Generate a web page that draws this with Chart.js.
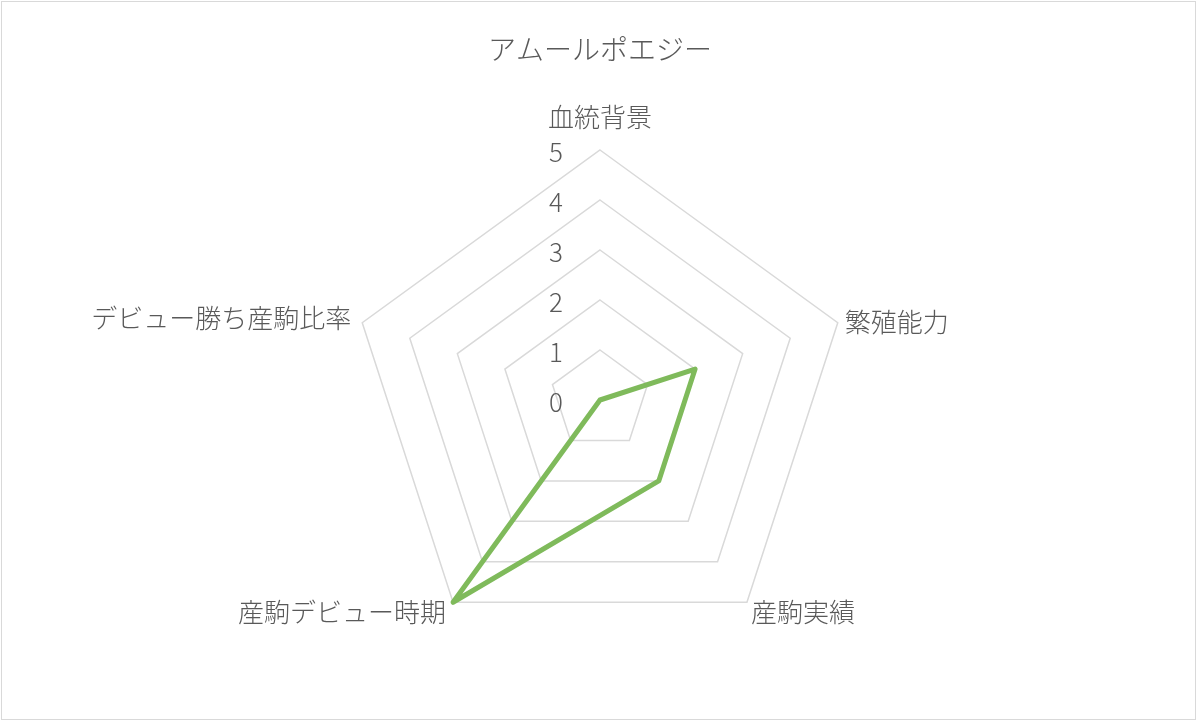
<!DOCTYPE html>
<html>
<head>
<meta charset="utf-8">
<script src="https://cdn.jsdelivr.net/npm/chart.js@4"></script>
<style>
  html, body { margin: 0; padding: 0; background: #fff; }
  #wrap { position: relative; width: 1200px; height: 722px; }
  #frame { position: absolute; left: 1px; top: 1px; width: 1193px; height: 717px; border: 1.5px solid #d9d9d9; pointer-events: none; }
</style>
</head>
<body>
<div id="wrap">
  <canvas id="chart_radar" width="1200" height="722"></canvas>
  <div id="frame"></div>
</div>
<script>
// chart data
const chart_title = 'アムールポエジー'
const categories = ['血統背景', '繁殖能力', '産駒実績', '産駒デビュー時期', 'デビュー勝ち産駒比率']
const series_values = [0, 2, 2, 5, 0]
const tick_values = [0, 1, 2, 3, 4, 5]
const tick_labels = ['0', '1', '2', '3', '4', '5']

const font_family = '"Noto Sans CJK JP", "Noto Sans", sans-serif'
const text_colour = '#595959'
const line_colour = '#7fba5b'

//draws the tick numbers left of the top axis, like excel does
const tickLabelPlugin = {
  id: 'tickLabels',
  afterDraw(chart) {
    let scale = chart.scales.r
    let ctx = chart.ctx
    ctx.save()
    ctx.font = '300 26px ' + font_family
    ctx.fillStyle = text_colour
    ctx.textAlign = 'right'
    ctx.textBaseline = 'middle'
    scale.ticks.forEach(function (t, i) {
      let d = scale.getDistanceFromCenterForValue(t.value)
      ctx.fillText(tick_labels[i], scale.xCenter - 37, scale.yCenter - d + 2)
    })
    ctx.restore()
  }
}

//draws the category names round the outer ring
const pointLabelPlugin = {
  id: 'catLabels',
  afterDraw(chart) {
    let scale = chart.scales.r
    let ctx = chart.ctx
    ctx.save()
    ctx.font = '300 26px ' + font_family
    ctx.fillStyle = text_colour
    ctx.textBaseline = 'middle'
    categories.forEach(function (label, i) {
      let p = scale.getPointPosition(i, scale.drawingArea)
      let dx = p.x - scale.xCenter
      let dy = p.y - scale.yCenter
      let x = p.x
      let y = p.y
      if (Math.abs(dx) < 1) {
        ctx.textAlign = 'center'
        y = p.y - 33
      } else if (dx > 0 && dy < 0) {
        ctx.textAlign = 'left'
        x = p.x + 7
        y = p.y - 1
      } else if (dx > 0) {
        ctx.textAlign = 'left'
        x = p.x + 4
        y = p.y + 10
      } else if (dy > 0) {
        ctx.textAlign = 'right'
        x = p.x - 7
        y = p.y + 10
      } else {
        ctx.textAlign = 'right'
        x = p.x - 11
        y = p.y - 5
      }
      ctx.fillText(label, x, y)
    })
    ctx.restore()
  }
}

let ctx = document.getElementById('chart_radar').getContext('2d')
let radar = new Chart(ctx, {
  type: 'radar',
  data: {
    labels: categories,
    datasets: [
      {
        label: chart_title,
        data: series_values,
        borderColor: line_colour,
        borderWidth: 5,
        borderJoinStyle: 'round',
        fill: false,
        pointRadius: 0,
        pointHoverRadius: 0,
        tension: 0
      }
    ]
  },
  options: {
    responsive: false,
    animation: false,
    devicePixelRatio: 1,
    layout: { padding: { top: 0, bottom: 72, left: 0, right: 0 } },
    plugins: {
      legend: { display: false },
      tooltip: { enabled: false },
      title: {
        display: true,
        text: chart_title,
        color: text_colour,
        font: { family: font_family, size: 28, weight: 300 },
        padding: { top: 33, bottom: 83.4 }
      }
    },
    scales: {
      r: {
        min: 0,
        max: 5,
        afterBuildTicks: function (s) {
          s.ticks = tick_values.map(v => ({ value: v }))
        },
        ticks: { display: false },
        angleLines: { display: false },
        pointLabels: { display: false },
        grid: { color: '#d9d9d9', lineWidth: 1.5 }
      }
    }
  },
  plugins: [tickLabelPlugin, pointLabelPlugin]
})
</script>
</body>
</html>
